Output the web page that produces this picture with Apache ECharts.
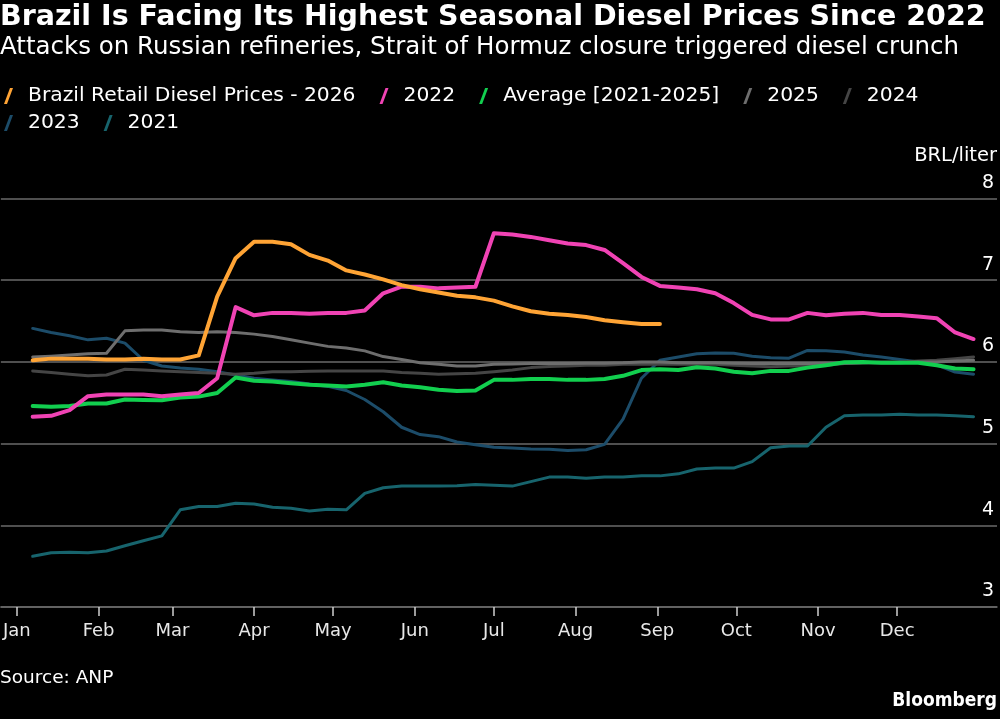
<!DOCTYPE html>
<html>
<head>
<meta charset="utf-8">
<script src="https://cdn.jsdelivr.net/npm/echarts@6/dist/echarts.min.js"></script>
<style>
html,body{margin:0;padding:0;background:#000;}
#c{width:1000px;height:719px;}
</style>
</head>
<body>
<div id="c"></div>
<script>
const months = ['Jan','Feb','Mar','Apr','May','Jun','Jul','Aug','Sep','Oct','Nov','Dec'];
const monthStartDays = [0,31,59,90,120,151,181,212,243,273,304,334];
const firstWeekDay = 6;   // first weekly observation (day of year)
const weekStep = 7;

const s2026 = [6.02,6.04,6.04,6.04,6.03,6.03,6.04,6.03,6.03,6.08,6.80,7.27,7.47,7.47,7.44,7.31,7.24,7.12,7.07,7.01,6.94,6.89,6.85,6.81,6.79,6.75,6.68,6.62,6.59,6.575,6.55,6.51,6.485,6.465,6.465];
const s2022 = [5.33,5.34,5.41,5.58,5.60,5.60,5.60,5.58,5.60,5.62,5.80,6.67,6.57,6.60,6.60,6.59,6.60,6.60,6.63,6.84,6.92,6.92,6.90,6.91,6.92,7.575,7.56,7.53,7.49,7.45,7.43,7.37,7.21,7.04,6.93,6.91,6.89,6.84,6.72,6.575,6.52,6.52,6.60,6.57,6.59,6.60,6.575,6.575,6.555,6.535,6.36,6.28];
const sAvg = [5.46,5.45,5.46,5.49,5.49,5.54,5.535,5.53,5.565,5.575,5.62,5.81,5.77,5.76,5.74,5.72,5.71,5.70,5.72,5.75,5.71,5.69,5.66,5.645,5.65,5.78,5.78,5.79,5.79,5.78,5.78,5.79,5.83,5.90,5.91,5.90,5.935,5.92,5.88,5.86,5.89,5.89,5.93,5.96,5.995,6.00,5.99,5.99,5.99,5.96,5.92,5.91];
const s2025 = [6.06,6.07,6.085,6.10,6.105,6.38,6.39,6.39,6.37,6.36,6.37,6.36,6.34,6.31,6.27,6.23,6.19,6.17,6.135,6.065,6.03,5.99,5.97,5.95,5.95,5.97,5.975,5.98,5.98,5.98,5.985,5.985,5.99,6.00,6.00,5.99,5.99,5.99,5.985,5.98,5.98,5.98,5.98,5.985,5.985,5.99,5.99,5.99,6.00,6.00,6.01,6.02];
const s2024 = [5.89,5.87,5.85,5.83,5.84,5.91,5.90,5.89,5.88,5.87,5.86,5.85,5.86,5.88,5.88,5.885,5.89,5.89,5.89,5.89,5.87,5.86,5.85,5.855,5.86,5.88,5.90,5.93,5.945,5.95,5.96,5.96,5.97,5.97,5.97,5.97,5.97,5.97,5.96,5.95,5.94,5.95,5.95,5.96,5.98,5.99,6.00,6.00,6.01,6.02,6.04,6.06];
const s2023 = [6.41,6.36,6.32,6.27,6.29,6.23,6.02,5.95,5.925,5.91,5.88,5.84,5.80,5.78,5.76,5.73,5.70,5.65,5.54,5.39,5.20,5.11,5.085,5.02,4.985,4.955,4.945,4.935,4.93,4.915,4.925,4.99,5.30,5.80,6.02,6.06,6.10,6.11,6.105,6.07,6.05,6.045,6.14,6.135,6.12,6.085,6.06,6.03,6.00,5.965,5.875,5.85];
const s2021 = [3.62,3.665,3.67,3.665,3.685,3.75,3.81,3.87,4.19,4.23,4.23,4.27,4.26,4.22,4.21,4.175,4.195,4.19,4.39,4.46,4.48,4.48,4.48,4.485,4.50,4.49,4.48,4.535,4.59,4.59,4.575,4.59,4.59,4.605,4.605,4.63,4.69,4.70,4.70,4.78,4.95,4.97,4.97,5.20,5.34,5.35,5.35,5.36,5.35,5.35,5.34,5.33];

const yTicks = [3,4,5,6,7,8];

const FONT = '"DejaVu Sans","Verdana",sans-serif';
const FONT_C = '"DejaVu Sans Condensed","DejaVu Sans",sans-serif';

function pts(arr){ return arr.map((v,i)=>[firstWeekDay + weekStep*i, v]); }

const seriesDefs = [
  {name:'2021', data:s2021, color:'#17646D', w:3},
  {name:'2023', data:s2023, color:'#1C4C69', w:3},
  {name:'2024', data:s2024, color:'#454545', w:3},
  {name:'2025', data:s2025, color:'#6E6E6E', w:3},
  {name:'Average [2021-2025]', data:sAvg, color:'#12CF4F', w:4},
  {name:'2022', data:s2022, color:'#F043B4', w:4},
  {name:'Brazil Retail Diesel Prices - 2026', data:s2026, color:'#FFA435', w:4}
];

const slash = 'path://M0,0M20,16M1,16L7,0L10,0L4,16Z';
const legendCommon = {
  orient:'horizontal', left:3, padding:0, itemWidth:20, itemHeight:16, itemGap:23,
  icon: slash,
  itemStyle:{borderWidth:0},
  textStyle:{color:'#ffffff', fontSize:20.3, fontFamily:FONT},
  selectedMode:false
};

const chart = echarts.init(document.getElementById('c'), null, {renderer:'canvas'});
chart.setOption({
  backgroundColor:'#000000',
  animation:false,
  legend:[
    Object.assign({}, legendCommon, {top:86, data:['Brazil Retail Diesel Prices - 2026','2022','Average [2021-2025]','2025','2024']}),
    Object.assign({}, legendCommon, {top:113, data:['2023','2021']})
  ],
  grid:{left:0, right:3, top:198.5, bottom:112, containLabel:false},
  xAxis:{
    type:'value', min:-6.07, max:371.9,
    axisLine:{show:true, lineStyle:{color:'#6a6a6a', width:1.5}},
    splitLine:{show:false},
    axisTick:{show:true, customValues:monthStartDays, length:9, lineStyle:{color:'#cfcfcf', width:1.5}},
    axisLabel:{show:true, customValues:monthStartDays, margin:15, color:'#e8e8e8', fontSize:18, fontFamily:FONT,
      formatter:(v)=>months[monthStartDays.indexOf(Math.round(v))] || ''}
  },
  yAxis:{
    type:'value', position:'right', min:3, max:8, interval:1,
    axisLine:{show:false}, axisTick:{show:false},
    splitLine:{show:true, lineStyle:{color:'#6a6a6a', width:1.5}},
    axisLabel:{inside:true, margin:3, color:'#ffffff', fontSize:19, fontFamily:FONT,
      verticalAlign:'bottom', padding:[0,0,6,0],
      formatter:(v)=> yTicks.includes(v) ? String(v) : ''}
  },
  series: seriesDefs.map((s,k)=>({
    name:s.name, type:'line', data:pts(s.data), showSymbol:false, symbol:'none',
    color:s.color, itemStyle:{color:s.color},
    lineStyle:{color:s.color, width:s.w, cap:'round', join:'round'},
    z:2+k, silent:true
  })),
  graphic:[
    {type:'text', left:0, top:3, style:{text:'Brazil Is Facing Its Highest Seasonal Diesel Prices Since 2022', fill:'#ffffff', font:'bold 28.5px '+FONT}},
    {type:'text', left:0, top:35, style:{text:'Attacks on Russian refineries, Strait of Hormuz closure triggered diesel crunch', fill:'#ffffff', font:'24.5px '+FONT}},
    {type:'text', right:3, top:146, style:{text:'BRL/liter', fill:'#ffffff', font:'19.5px '+FONT}},
    {type:'text', left:0, top:669, style:{text:'Source: ANP', fill:'#ffffff', font:'18.5px '+FONT}},
    {type:'text', right:3, top:692, style:{text:'Bloomberg', fill:'#ffffff', font:'bold 19px '+FONT_C}}
  ]
});
</script>
</body>
</html>
